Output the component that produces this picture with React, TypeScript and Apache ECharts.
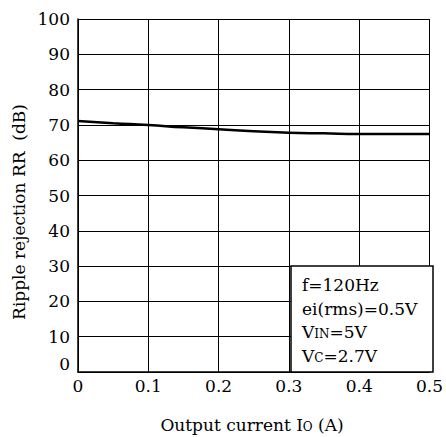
import React, { useEffect, useRef } from "react";
import * as echarts from "echarts";

const currents = [0, 0.05, 0.1, 0.15, 0.2, 0.25, 0.3, 0.35, 0.4, 0.45, 0.5];
const rejection = [71.1, 70.5, 70.0, 69.3, 68.8, 68.2, 67.8, 67.6, 67.4, 67.4, 67.4];
const xTicks = { min: 0, max: 0.5, interval: 0.1 };
const yTicks = { min: 0, max: 100, interval: 10 };
const conditions = ["f=120Hz", "ei(rms)=0.5V", "V{s|IN}=5V", "V{s|C}=2.7V"];
const yName = "Ripple rejection RR  (dB)";
const xName = "Output current I{s|O} (A)";

const FONT = "DejaVu Serif";

export default function App() {
  const ref = useRef<HTMLDivElement>(null);
  useEffect(() => {
    document.body.style.margin = "0";
    const chart = echarts.init(ref.current!, null, { renderer: "svg" });
    const left = 78, right = 13, top = 19, bottom = 65;
    const richT = { t: { fontFamily: FONT, fontSize: 17, color: "#000" } };
    const fmt = (v: number) => `{t|${Math.round(v * 10) / 10}}`;
    chart.setOption({
      animation: false,
      backgroundColor: "#fff",
      textStyle: { fontFamily: FONT },
      grid: { left, right, top, bottom, containLabel: false },
      xAxis: {
        type: "value",
        min: xTicks.min,
        max: xTicks.max,
        interval: xTicks.interval,
        axisLine: { show: true, onZero: false, lineStyle: { color: "#000", width: 1.5 } },
        axisTick: { show: false },
        splitLine: { show: true, lineStyle: { color: "#000", width: 1 } },
        axisLabel: {
          color: "#000",
          fontFamily: FONT,
          fontSize: 17,
          margin: 5,
          formatter: fmt,
          rich: richT,
        },
      },
      yAxis: {
        type: "value",
        min: yTicks.min,
        max: yTicks.max,
        interval: yTicks.interval,
        axisLine: { show: true, lineStyle: { color: "#000", width: 1.5 } },
        axisTick: { show: false },
        splitLine: { show: true, lineStyle: { color: "#000", width: 1 } },
        axisLabel: {
          color: "#000",
          fontFamily: FONT,
          fontSize: 17,
          margin: 8,
          verticalAlignMinLabel: "bottom",
          formatter: fmt,
          rich: richT,
        },
      },
      series: [
        {
          type: "line",
          data: currents.map((c, i) => [c, rejection[i]]),
          smooth: true,
          showSymbol: false,
          lineStyle: { color: "#000", width: 2.5 },
          z: 3,
        },
      ],
      graphic: [
        {
          type: "rect",
          shape: { x: 291, y: 266, width: 142, height: 106 },
          style: { fill: "#fff", stroke: "#000", lineWidth: 1.5 },
          z: 10,
        },
        ...conditions.map((t, i) => ({
          type: "text",
          x: 302,
          y: 285 + i * 23.5,
          z: 11,
          style: {
            text: t,
            fontFamily: FONT,
            fontSize: 17,
            fill: "#000",
            verticalAlign: "middle",
            rich: {
              s: { fontSize: 12, fontFamily: FONT, fill: "#000", padding: [4, 0, 0, 0] },
            },
          },
        })),
        {
          type: "text",
          x: 19,
          y: 212,
          rotation: Math.PI / 2,
          style: {
            text: yName,
            fontFamily: FONT,
            fontSize: 17,
            fill: "#000",
            align: "center",
            verticalAlign: "middle",
          },
        },
        {
          type: "text",
          x: 252,
          y: 425,
          style: {
            text: xName,
            fontFamily: FONT,
            fontSize: 17,
            fill: "#000",
            align: "center",
            verticalAlign: "middle",
            rich: {
              s: { fontSize: 12, fontFamily: FONT, fill: "#000", padding: [4, 0, 0, 0] },
            },
          },
        },
      ],
    });
    return () => chart.dispose();
  }, []);
  return <div ref={ref} style={{ width: 446, height: 437 }} />;
}
